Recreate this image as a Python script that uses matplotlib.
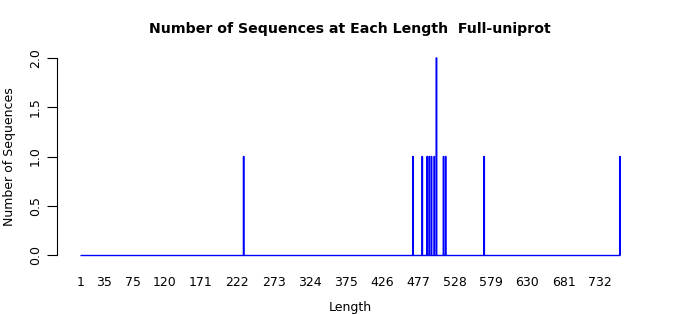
import numpy as np
import matplotlib
matplotlib.use("Agg")
import matplotlib.pyplot as plt

# lengths that occur, and how many sequences have each
seq_lengths = [231, 469, 482, 489, 492, 495, 499, 502, 512, 515, 569, 760]
seq_counts = [1, 1, 1, 1, 1, 1, 1, 2, 1, 1, 1, 1]
tick_labels = [1, 35, 75, 120, 171, 222, 273, 324, 375, 426, 477, 528, 579, 630, 681, 732]

# one slot per length, like a table of all lengths
all_lengths = np.arange(1, max(seq_lengths) + 1)
counts = np.zeros(len(all_lengths))
for L, c in zip(seq_lengths, seq_counts):
    counts[L - 1] = c

fig = plt.figure(figsize=(7, 3.15), dpi=100)
ax = fig.add_axes([57 / 700, 52 / 315, 585 / 700, 213 / 315])

nz = counts > 0
ax.bar(all_lengths[nz], counts[nz], width=0.83, color="#0000ff", edgecolor="#0000ff",
       linewidth=1.0, snap=False)
# zero-height bars show up as a blue baseline
ax.hlines(0, all_lengths[0] - 0.5, all_lengths[-1] + 0.5, color="#0000ff", linewidth=1.0)

ax.set_xlim(-31.5, 791)
ax.set_ylim(-0.08, 2.08)

for s in ["top", "right", "bottom"]:
    ax.spines[s].set_visible(False)
ax.spines["left"].set_bounds(0, 2)
ax.spines["left"].set_linewidth(0.8)

ax.set_yticks([0, 0.5, 1.0, 1.5, 2.0])
ax.set_yticklabels(["0.0", "0.5", "1.0", "1.5", "2.0"], rotation=90, va="center")
ax.tick_params(axis="y", length=7, width=0.8, labelsize=9, pad=4)
ax.set_xticks(tick_labels)
ax.set_xticklabels([str(t) for t in tick_labels])
ax.tick_params(axis="x", length=0, labelsize=9, pad=9)

fig.text(350 / 700, 1 - 307 / 315, "Length", fontsize=9, ha="center", va="center")
ax.set_ylabel("Number of Sequences", fontsize=9, labelpad=9)
fig.suptitle("Number of Sequences at Each Length  Full-uniprot", fontsize=10.2,
             fontweight="bold", x=350 / 700, y=1 - 29 / 315, va="center")

fig.savefig("out.png", dpi=100)
